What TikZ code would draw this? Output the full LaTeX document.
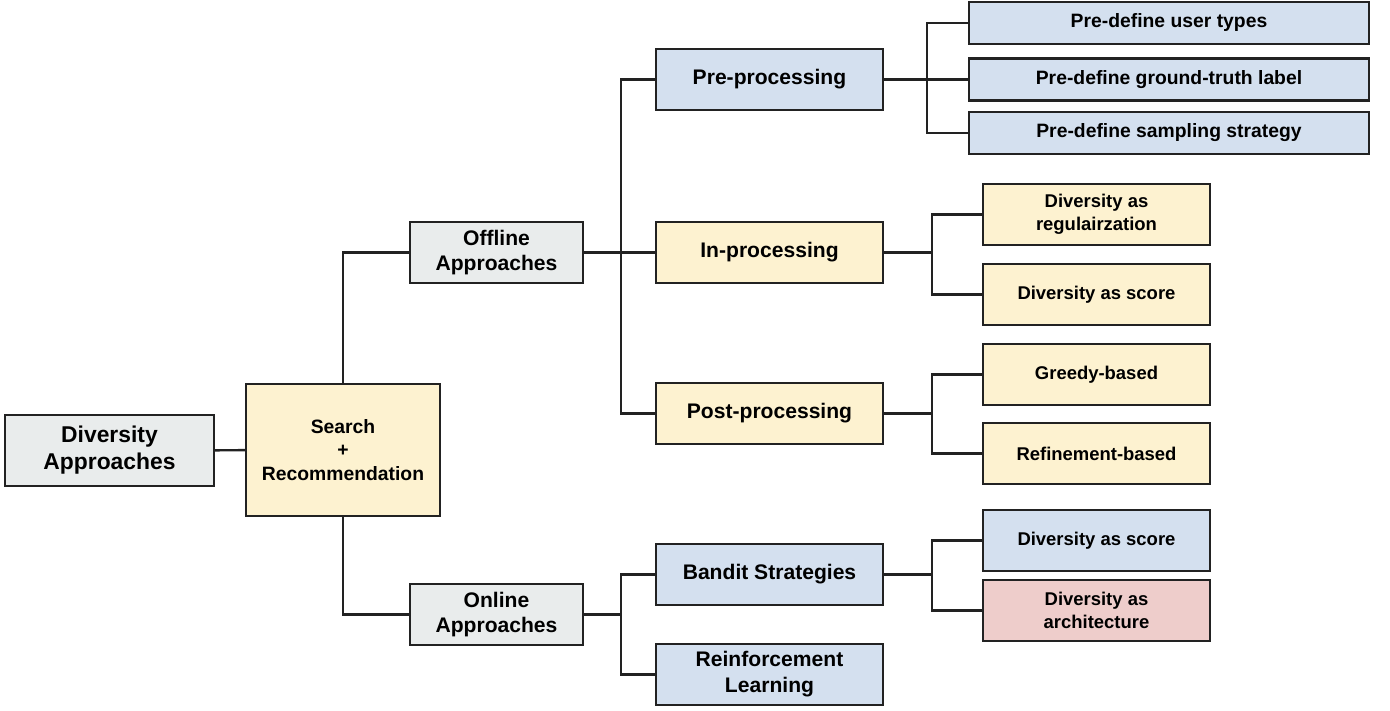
\documentclass[tikz,border=0pt]{standalone}
\usepackage{fontspec}
\setmainfont{Liberation Sans}
\usetikzlibrary{positioning}

\definecolor{linec}{HTML}{222222}
\definecolor{grayf}{HTML}{E9ECEC}
\definecolor{yellowf}{HTML}{FDF2D0}
\definecolor{bluef}{HTML}{D4E0EF}
\definecolor{redf}{HTML}{EECDCB}

\begin{document}
\begin{tikzpicture}[
x=0.2mm, y=-0.2mm,
box/.style={draw=linec, line width=1.4pt, align=center, inner sep=1pt,
    minimum height=12.2mm, minimum width=45.4mm,
    font=\bfseries\fontsize{12}{14.7}\selectfont},
leaf/.style={box, font=\bfseries\fontsize{10.5}{13}\selectfont},
wide/.style={box, minimum width=80mm, minimum height=8.4mm,
    font=\bfseries\fontsize{11}{13}\selectfont},
link/.style={draw=linec, line width=1.4pt},
]
\useasboundingbox (0,0) rectangle (1390,711);

% root and first level
\node[box, fill=grayf, minimum width=41.8mm, minimum height=14.2mm,
    font=\bfseries\fontsize{13}{15.3}\selectfont] (div) at (109.5,450.5) {Diversity\\Approaches};
\node[box, fill=yellowf, minimum width=38.8mm, minimum height=26.4mm,
    font=\bfseries\fontsize{11}{13.3}\selectfont] (sr) at (343,450) {Search\\+\\Recommendation};
\node[box, fill=grayf, minimum width=34.6mm] (offline) at (496.5,252.5) {Offline\\Approaches};
\node[box, fill=grayf, minimum width=34.6mm] (online) at (496.5,614.5) {Online\\Approaches};

% second level
\node[box, fill=bluef] (pre) at (769.5,79.5) {Pre-processing};
\node[box, fill=yellowf] (in) at (769.5,252.5) {In-processing};
\node[box, fill=yellowf] (post) at (769.5,413.5) {Post-processing};
\node[box, fill=bluef] (bandit) at (769.5,574.5) {Bandit Strategies};
\node[box, fill=bluef] (rl) at (769.5,674.5) {Reinforcement\\Learning};

% leaves
\node[wide, fill=bluef] (utypes) at (1169,23) {Pre-define user types};
\node[wide, fill=bluef] (gtlabel) at (1169,79.5) {Pre-define ground-truth label};
\node[wide, fill=bluef] (sampling) at (1169,133) {Pre-define sampling strategy};
\node[leaf, fill=yellowf] (reg) at (1096.5,214.5) {Diversity as\\regulairzation};
\node[leaf, fill=yellowf] (score) at (1096.5,294.5) {Diversity as score};
\node[leaf, fill=yellowf] (greedy) at (1096.5,374.5) {Greedy-based};
\node[leaf, fill=yellowf] (refine) at (1096.5,453.5) {Refinement-based};
\node[leaf, fill=bluef] (bscore) at (1096.5,540.5) {Diversity as score};
\node[leaf, fill=redf] (arch) at (1096.5,610.5) {Diversity as\\architecture};

% branch points
\coordinate (offbus) at (621,252.5);
\coordinate (onbus) at (621,614.5);
\coordinate (prebus) at (927,79.5);
\coordinate (inbus) at (932,252.5);
\coordinate (postbus) at (932,413.5);
\coordinate (bandbus) at (932,574.5);

\path[link] (div) -- (sr);
\path[link] (sr.north) |- (offline.west);
\path[link] (sr.south) |- (online.west);

\path[link] (offline.east) -- (offbus);
\path[link] (pre.west) -| (offbus) |- (post.west);
\path[link] (offbus) -- (in.west);
\path[link] (online.east) -- (onbus);
\path[link] (bandit.west) -| (onbus) |- (rl.west);

\path[link] (pre.east) -- (gtlabel.west);
\path[link] (utypes.west) -| (prebus) |- (sampling.west);
\path[link] (in.east) -- (inbus);
\path[link] (reg.west) -| (inbus) |- (score.west);
\path[link] (post.east) -- (postbus);
\path[link] (greedy.west) -| (postbus) |- (refine.west);
\path[link] (bandit.east) -- (bandbus);
\path[link] (bscore.west) -| (bandbus) |- (arch.west);

\end{tikzpicture}
\end{document}
